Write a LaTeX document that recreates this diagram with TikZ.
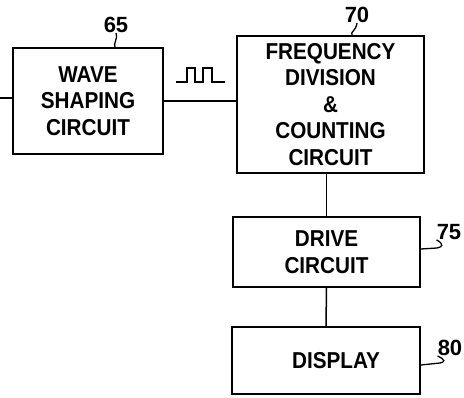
\documentclass[tikz,border=0pt]{standalone}
\usepackage{fontspec}
\setmainfont[FakeStretch=0.9]{Liberation Sans}
\newfontfamily\numfont{Liberation Sans}
\begin{document}
\begin{tikzpicture}[x=1pt,y=-1pt,
  blk/.style={draw,line width=1.8pt,inner sep=0pt,align=center,
    font=\fontsize{23}{26.5}\selectfont\bfseries},
  num/.style={inner sep=0pt,font=\numfont\fontsize{22}{22}\selectfont\bfseries},
  wire/.style={line width=1.5pt},
  lead/.style={line width=1.3pt}]
\useasboundingbox (0,0) rectangle (464,398);
\node[blk,minimum width=150pt,minimum height=106pt] (ws) at (88,101) {WAVE\\SHAPING\\CIRCUIT};
\node[blk,minimum width=187pt,minimum height=137pt] (fd) at (330.5,104.5) {FREQUENCY\\DIVISION\\\&\\COUNTING\\CIRCUIT};
\node[blk,minimum width=187pt,minimum height=70pt] (dr) at (326.5,252) {DRIVE\\CIRCUIT};
\node[blk,minimum width=188pt,minimum height=67pt] (dp) at (326,360.5) {\hspace*{20pt}DISPLAY};
\node[num] (n65) at (116,25) {65};
\node[num] (n70) at (357,15) {70};
\node[num] (n75) at (449,232) {75};
\node[num] (n80) at (450,348) {80};
\coordinate (in) at (0,98);
% connectors
\draw[wire] (in) -- (in -| ws.west);
\draw[wire] (ws.east) -- (ws.east -| fd.west);
\draw[wire] (dr.north |- fd.south) -- (dr.north);
\draw[wire] (dr.south) -- (dp.north);
% pulse symbol
\draw[line width=1.4pt] (176,82) -- (187,82) -- (187,68) -- (195,68) -- (195,82)
  -- (203,82) -- (203,68) -- (212,68) -- (212,82) -- (225,82);
% leaders
\draw[lead] (ws.north -| 115,0) .. controls (113,43) and (118,40) .. (n65.south);
\draw[lead] (fd.north -| 352,0) .. controls (350,32) and (356,31) .. (n70.south);
\draw[lead] (dr.east |- 0,249) -- (437,248) .. controls (443,247) and (444,244) .. (n75.south west);
\draw[lead] (dp.east |- 0,365) -- (440,363) .. controls (445,362) and (446,360) .. (n80.south west);
\end{tikzpicture}
\end{document}
